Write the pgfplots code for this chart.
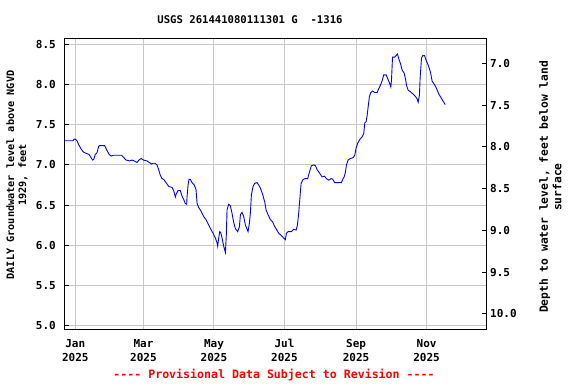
\documentclass[border=0pt]{standalone}
\usepackage{fontspec}
\setmonofont{DejaVu Sans Mono}
\usepackage{pgfplots}
\pgfplotsset{compat=1.18}
\definecolor{gridc}{RGB}{200,200,200}
\pgfplotstableread{
day level
-9.3 7.30
-2 7.30
-1 7.32
0 7.32
1.5 7.30
3 7.25
5 7.20
7 7.16
10 7.14
12 7.13
13.6 7.09
15 7.06
16 7.07
17.3 7.13
18.8 7.15
20.2 7.23
21 7.24
25.4 7.24
27.4 7.18
29.4 7.13
31 7.11
33 7.12
40 7.12
42 7.09
44 7.06
47 7.05
49 7.06
51 7.05
53.4 7.03
55 7.06
57 7.08
59 7.06
62 7.05
64 7.03
66 7.01
67 7.02
69 7.02
70.7 7.00
72.2 6.94
73.6 6.87
75 6.83
76.5 6.82
78.5 6.78
80 6.75
81 6.73
83.7 6.72
85.1 6.68
86.6 6.60
87.4 6.64
88.9 6.68
90.9 6.68
92.4 6.61
93.8 6.57
95.2 6.52
96.4 6.51
96.7 6.60
97.6 6.75
98.4 6.82
99.6 6.82
101 6.78
103 6.75
104.5 6.69
105.4 6.52
106.8 6.47
108.2 6.44
109.7 6.40
111 6.36
113.1 6.32
114.5 6.28
116.9 6.21
119.2 6.15
121.2 6.09
122.7 6.03
123.2 5.99
124.1 6.09
125 6.17
125.8 6.16
127 6.09
128.4 5.99
129.9 5.91
130.7 6.13
131.3 6.44
132.7 6.51
134.2 6.49
135.6 6.40
137 6.29
138.5 6.21
140.5 6.17
142 6.23
142.9 6.38
144.3 6.41
145.7 6.36
147.2 6.25
148.7 6.20
149.5 6.17
150.6 6.27
151.5 6.40
152.4 6.63
153.8 6.73
155.2 6.77
157.3 6.78
158.7 6.75
160.2 6.71
162.2 6.63
163.9 6.54
165.1 6.44
166.8 6.38
168.8 6.32
170.8 6.29
172.3 6.24
174 6.20
176 6.15
178.4 6.12
180.3 6.09
181.8 6.07
182.7 6.15
184.2 6.17
187 6.17
189 6.20
191.1 6.19
192.2 6.25
193.3 6.40
194.2 6.56
195.4 6.77
197.1 6.82
199.1 6.83
201.1 6.83
202.6 6.91
204.3 6.99
206.3 7.00
207.8 6.99
209.3 6.94
211.3 6.90
213.6 6.85
215.6 6.86
217.3 6.83
219.3 6.81
221.4 6.83
222.8 6.82
224.5 6.78
227.4 6.78
230.3 6.78
231.4 6.82
232.6 6.85
233.8 6.91
234.6 7.00
236.1 7.06
238.1 7.08
240.4 7.09
241.8 7.12
243 7.21
244.4 7.27
245.9 7.31
248.2 7.35
249.6 7.39
250.5 7.52
251.7 7.54
252.6 7.62
253.4 7.72
254.5 7.85
255.7 7.90
257.4 7.92
259.1 7.90
261.2 7.90
262.6 7.95
264.3 8.00
265.6 8.05
266.9 8.12
269 8.12
270.4 8.07
271.9 8.02
273 7.97
273.6 8.05
274.5 8.34
276.4 8.34
277.6 8.36
278.8 8.38
279.9 8.32
281.4 8.26
282.8 8.18
284.6 8.14
285.7 8.07
286.6 7.99
288 7.93
290 7.91
292.3 7.88
294.4 7.85
295.8 7.82
296.7 7.78
297.8 7.87
298.4 8.09
299.6 8.33
300.7 8.36
302.2 8.36
303.6 8.30
305.4 8.24
307.4 8.15
308.8 8.04
310.8 8.00
312.6 7.95
314.6 7.88
316.7 7.83
318.4 7.79
320.1 7.75
}\gwdata
\begin{document}
\begin{tikzpicture}[x=1bp,y=1bp]
\useasboundingbox (-64.3,-55) rectangle (511.7,329);
\begin{axis}[
  at={(0,0)}, anchor=south west,
  scale only axis, width=422.4bp, height=290bp,
  xmin=-9.5, xmax=356, ymin=4.959, ymax=8.566,
  xtick={0,59,120,181,243,304},
  xticklabels={Jan\\2025,Mar\\2025,May\\2025,Jul\\2025,Sep\\2025,Nov\\2025},
  xticklabel style={align=center, yshift=-7bp, font=\fontsize{11bp}{13.5bp}\selectfont\ttfamily\bfseries},
  ytick={5,5.5,...,8.5},
  yticklabel style={xshift=-5bp, font=\fontsize{11bp}{13bp}\selectfont\ttfamily\bfseries,
    /pgf/number format/.cd, fixed, fixed zerofill, precision=1, assume math mode=true},
  xtick pos=bottom, ytick pos=left,
  x tick style={draw=none},
  tick align=inside, major tick length=4.5bp,
  y tick style={black, line width=1bp},
  grid=major, major grid style={gridc, line width=1bp},
  axis line style={black, line width=1bp},
]
\addplot[blue, line width=0.9bp, mark=none] table[x=day, y=level] {\gwdata};
\end{axis}
\begin{axis}[
  at={(0,0)}, anchor=south west,
  scale only axis, width=422.4bp, height=290bp,
  xmin=-9.5, xmax=356, ymin=6.709, ymax=10.18, y dir=reverse,
  hide x axis,
  ytick={7,7.5,...,10},
  ytick pos=right,
  yticklabel style={font=\fontsize{11bp}{13bp}\selectfont\ttfamily\bfseries, anchor=west,
    /pgf/number format/.cd, fixed, fixed zerofill, precision=1, assume math mode=true},
  tick align=inside, major tick length=4.5bp,
  y tick style={black, line width=1bp},
  axis line style={black, line width=1bp},
]
\addplot[draw=none] coordinates {(0,8)};
\end{axis}
\node[font=\fontsize{10.6bp}{12bp}\selectfont\ttfamily\bfseries] at (185.7,309) {USGS 261441080111301 G\ \ -1316};
\node[rotate=90, align=center, font=\fontsize{10.2bp}{12bp}\selectfont\ttfamily\bfseries] at (-47.3,154) {DAILY Groundwater level above NGVD\\1929, feet};
\node[rotate=90, align=center, font=\fontsize{11.3bp}{13.5bp}\selectfont\ttfamily\bfseries] at (486,142) {Depth to water level, feet below land\\surface};
\node[text=red, font=\fontsize{11.6bp}{13bp}\selectfont\ttfamily\bfseries] at (209.7,-46) {---- Provisional Data Subject to Revision ----};
\end{tikzpicture}
\end{document}
